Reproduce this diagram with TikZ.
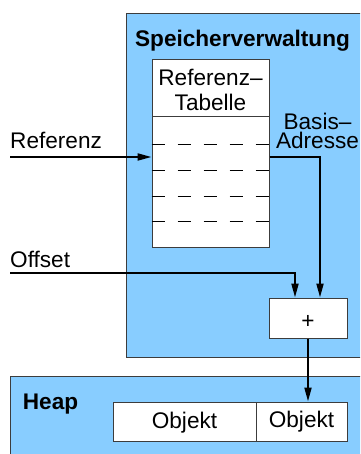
\documentclass[tikz,border=0pt]{standalone}
\usepackage{fontspec}
\setmainfont{Liberation Sans}
\usetikzlibrary{arrows.meta,calc}
\definecolor{areablue}{RGB}{136,205,255}
\definecolor{edgegray}{RGB}{60,60,60}
\tikzset{
  area/.style={draw=edgegray,line width=1pt,fill=areablue,inner sep=0pt},
  whitebox/.style={draw=edgegray,line width=1pt,fill=white,inner sep=0pt},
  lbl/.style={anchor=base,inner sep=0pt,font=\fontsize{22.6pt}{24pt}\selectfont},
  blbl/.style={lbl,font=\fontsize{22.6pt}{24pt}\selectfont\bfseries},
  conn/.style={line width=2pt,-{Triangle[length=14pt,width=7pt]}},
  dashline/.style={line width=0.9pt,dash pattern=on 13pt off 13pt},
}
\begin{document}
\begin{tikzpicture}[x=1pt,y=-1pt]
\useasboundingbox (0,0) rectangle (360,454);
\clip (0,0) rectangle (360,454);
% areas
\node[area,minimum width=270pt,minimum height=343pt] (sv) at (261,185.5) {};
\node[area,minimum width=380pt,minimum height=100pt] (heap) at (200,426) {};
\node[blbl] (svt) at (242.5,47) {Speicherverwaltung};
\node[blbl] (heapt) at (50.5,409) {Heap};
% table
\node[whitebox,minimum width=117pt,minimum height=57pt] (hdr) at (210.5,88.5) {};
\node[whitebox,minimum width=117pt,minimum height=130pt] (tbl) at (210.5,182) {};
\node[lbl,align=center,font=\fontsize{22.6pt}{25pt}\selectfont] (hdrt) at (210.5,111) {Referenz–\\Tabelle};
\foreach \yy in {144,170,196,221}
  \draw[dashline] (tbl.west |- 0,\yy) -- (tbl.east |- 0,\yy);
% plus box
\node[whitebox,minimum width=78pt,minimum height=40pt] (plus) at (308,318) {};
\node[lbl] (plust) at (308,328) {+};
% objects
\node[whitebox,minimum width=143pt,minimum height=39pt] (obj1) at (184.5,421.5) {};
\node[whitebox,minimum width=91pt,minimum height=39pt] (obj2) at (301.5,421.5) {};
\node[lbl] (obj1t) at (184.5,428) {Objekt};
\node[lbl] (obj2t) at (301.5,427) {Objekt};
% labels
\node[lbl,anchor=base west] (reft) at (10,149) {Referenz};
\node[lbl,anchor=base west] (offt) at (10,267) {Offset};
\node[lbl,align=center,font=\fontsize{22.6pt}{19pt}\selectfont] (bast) at (317.5,149) {Basis–\\Adresse};
% connectors
\coordinate (refin) at (10,157);
\coordinate (offin) at (10,273);
\coordinate (bend1) at (320,157);
\coordinate (bend2) at (295,273);
\draw[conn] (refin) -- (tbl.west |- refin);
\draw[conn] (tbl.east |- bend1) -- (bend1) -- (bend1 |- plus.north);
\draw[conn] (offin) -- (bend2) -- (bend2 |- plus.north);
\draw[conn] (plus.south) -- (plus.south |- obj2.north);
\end{tikzpicture}
\end{document}
